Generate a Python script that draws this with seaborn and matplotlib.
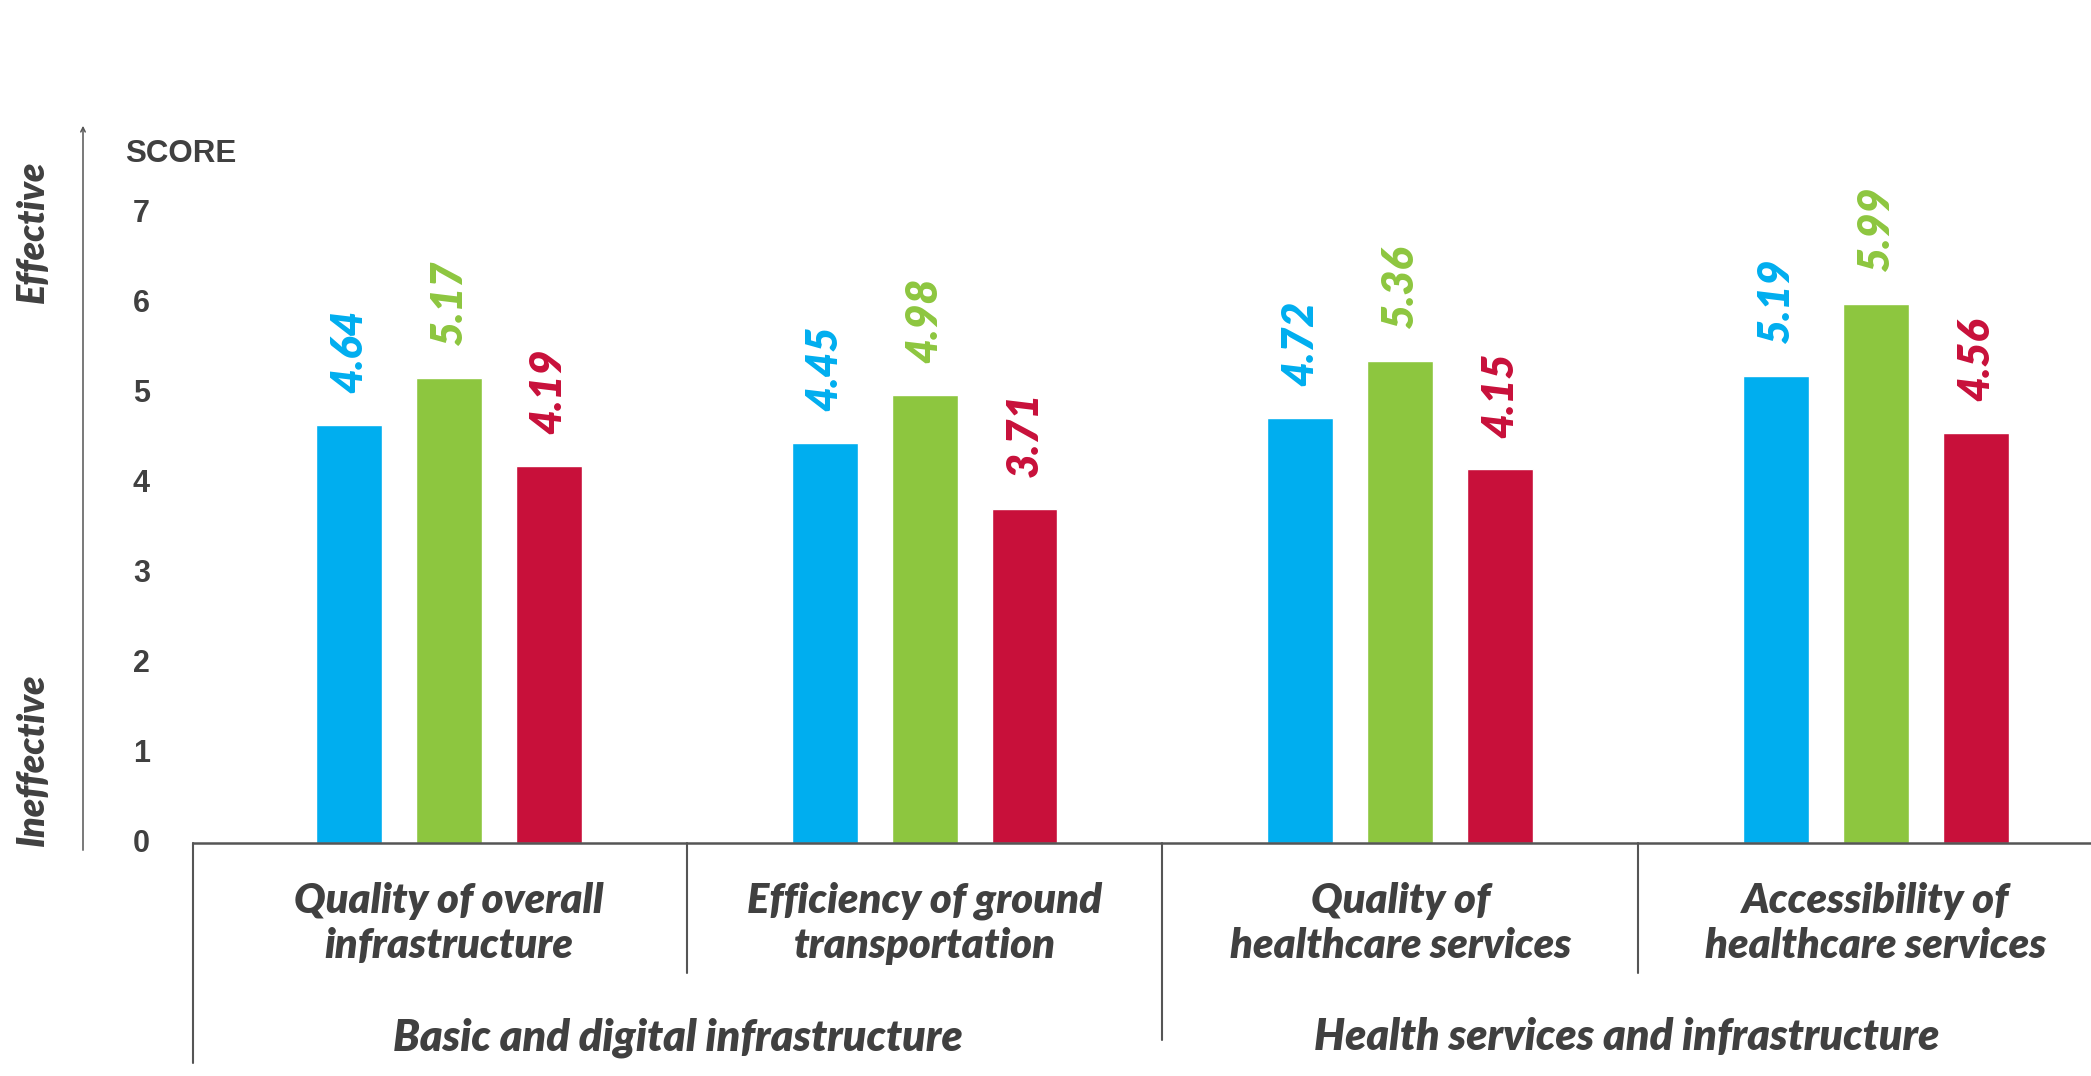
#!/usr/bin/env python3

# Libraries
import seaborn as sns
import pandas as pd
from matplotlib import pyplot as plt
from matplotlib import transforms

# Data
categories = ["Quality of overall\ninfrastructure",
              "Efficiency of ground\ntransportation",
              "Quality of\nhealthcare services",
              "Accessibility of\nhealthcare services"]
groups = ["Basic and digital infrastructure", "Health services and infrastructure"]
category_group = [0, 0, 1, 1]
series = ["A", "B", "C"]
series_a = [4.64, 4.45, 4.72, 5.19]
series_b = [5.17, 4.98, 5.36, 5.99]
series_c = [4.19, 3.71, 4.15, 4.56]
yticks = [0, 1, 2, 3, 4, 5, 6, 7]

colors = ["#00AEEF", "#8DC63F", "#C8103A"]
grey = "#404040"
cond = ["Lato", "DejaVu Sans"]


def plot_chart():
    df = pd.DataFrame({
        "category": categories * 3,
        "series": [s for s in series for _ in categories],
        "score": series_a + series_b + series_c,
    })

    sns.set_style("white")
    plt.rcParams["font.family"] = ["Liberation Sans", "DejaVu Sans"]

    W, H = 2091, 1076
    fig = plt.figure(figsize=(W / 100, H / 100), dpi=100)
    ax = fig.add_axes([193 / W, 233 / H, 1 - 193 / W, 720 / H])

    sns.barplot(data=df, x="category", y="score", hue="series", order=categories,
                hue_order=series, palette=colors, saturation=1, width=0.63, gap=0.34,
                legend=False, ax=ax)

    ax.set_xlim(-0.538, 3.452)
    ax.set_ylim(0, 8)
    ax.set_xlabel("")
    ax.set_ylabel("")
    ax.set_xticks([])
    ax.set_yticks(yticks)
    ax.set_yticklabels([str(t) for t in yticks], fontsize=22, fontweight="bold", color=grey)
    ax.tick_params(axis="y", length=0, pad=31)
    for lbl in ax.get_yticklabels():
        lbl.set_transform(lbl.get_transform() +
                          transforms.ScaledTranslation(0, 2 / 100, fig.dpi_scale_trans))

    for side in ["top", "right", "left"]:
        ax.spines[side].set_visible(False)
    ax.spines["bottom"].set_color("#555555")
    ax.spines["bottom"].set_linewidth(1.8)

    # value labels
    for cont, col in zip(ax.containers, colors):
        ax.bar_label(cont, labels=[f"{v:.2f}" for v in cont.datavalues], rotation=90,
                     padding=23, color=col, fontsize=31, fontweight="heavy",
                     fontstyle="italic", family=cond)

    # category labels
    xt = ax.get_xaxis_transform()
    for i, lab in enumerate(categories):
        for line, y in zip(lab.split("\n"), [-0.0972, -0.1597]):
            ax.text(i, y, line, transform=xt, ha="center", va="baseline", fontsize=30,
                    fontweight="heavy", fontstyle="italic", color=grey, family=cond,
                    clip_on=False)

    # dividers
    left, right = ax.get_xlim()
    ax.plot([left, left], [0, -0.3056], transform=xt, color="#555555", lw=1.5, clip_on=False)
    for i in range(len(categories) - 1):
        same = category_group[i] == category_group[i + 1]
        ax.plot([i + 0.5, i + 0.5], [0, -0.1806 if same else -0.2736], transform=xt,
                color="#555555", lw=1.5, clip_on=False)

    # group labels
    bounds = [left] + [i + 0.5 for i in range(len(categories) - 1)
                       if category_group[i] != category_group[i + 1]] + [right]
    for g, name in enumerate(groups):
        ax.text((bounds[g] + bounds[g + 1]) / 2, -0.2875, name, transform=xt, ha="center",
                va="baseline", fontsize=31, fontweight="heavy", fontstyle="italic",
                color=grey, family=cond, clip_on=False)

    # left arrow and annotations
    ax.annotate("", xy=(83 / W, 1 - 123 / H), xytext=(83 / W, 1 - 853 / H),
                xycoords="figure fraction", textcoords="figure fraction",
                arrowprops=dict(arrowstyle="->", lw=1.1, color="#555555", mutation_scale=8))
    fig.text(125 / W, 1 - 162 / H, "SCORE", fontsize=22.5, fontweight="bold", color=grey,
             va="baseline", ha="left")
    fig.text(33 / W, 1 - 232 / H, "Effective", rotation=90, ha="center", va="center",
             fontsize=27, fontweight="heavy", fontstyle="italic", color=grey, family=cond)
    fig.text(33 / W, 1 - 760 / H, "Ineffective", rotation=90, ha="center", va="center",
             fontsize=27, fontweight="heavy", fontstyle="italic", color=grey, family=cond)

    fig.savefig("out.png", dpi=100)


if __name__ == '__main__':
    plot_chart()
